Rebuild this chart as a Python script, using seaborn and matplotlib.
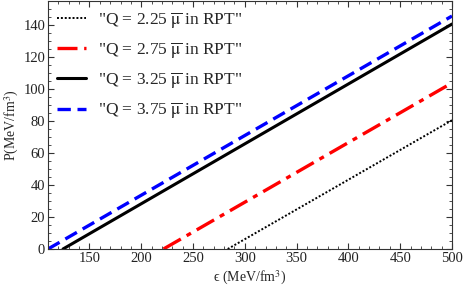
import matplotlib
matplotlib.use("Agg")
import matplotlib.pyplot as plt
from matplotlib.ticker import MultipleLocator
import pandas as pd
import seaborn as sns

# values (two end points per straight line)
eps_q225 = [283.5, 500.0]
p_q225 = [0.0, 80.5]
eps_q275 = [221.5, 500.0]
p_q275 = [0.0, 103.8]
eps_q325 = [124.5, 500.0]
p_q325 = [0.0, 140.6]
eps_q375 = [110.0, 500.0]
p_q375 = [0.0, 145.6]

labels = [
    '"Q = 2.25 $\\overline{\\mathrm{\\mu}}$ in RPT"',
    '"Q = 2.75 $\\overline{\\mathrm{\\mu}}$ in RPT"',
    '"Q = 3.25 $\\overline{\\mathrm{\\mu}}$ in RPT"',
    '"Q = 3.75 $\\overline{\\mathrm{\\mu}}$ in RPT"',
]

frames = []
for lab, xs, ys in zip(labels, [eps_q225, eps_q275, eps_q325, eps_q375],
                       [p_q225, p_q275, p_q325, p_q375]):
    frames.append(pd.DataFrame({"eps": xs, "P": ys, "series": lab}))
df = pd.concat(frames, ignore_index=True)

sns.set_style("ticks")
plt.rcParams["font.family"] = ["Liberation Serif", "DejaVu Serif"]
plt.rcParams["mathtext.fontset"] = "stix"

fig = plt.figure(figsize=(4.63, 2.92), dpi=100)
ax = fig.add_axes([48 / 463, 1 - 249 / 292, 404 / 463, 248 / 292])

colors = ["black", "red", "black", "blue"]
styles = [(0, (1, 1)), (0, (6, 2, 1.5, 2)), "-", (0, (4, 2))]
widths = [1.4, 2.4, 2.2, 2.4]

for lab, c, ls, lw in zip(labels, colors, styles, widths):
    sub = df[df["series"] == lab]
    sns.lineplot(data=sub, x="eps", y="P", ax=ax, color=c, linestyle=ls,
                 linewidth=lw, label=lab)

ax.set_xlim(110, 500)
ax.set_ylim(0, 155)
ax.xaxis.set_major_locator(MultipleLocator(50))
ax.xaxis.set_minor_locator(MultipleLocator(10))
ax.yaxis.set_major_locator(MultipleLocator(20))
ax.yaxis.set_minor_locator(MultipleLocator(5))
ax.tick_params(which="both", direction="in", top=True, right=True,
               labelsize=10.5, colors="#333333", labelcolor="#222222")
ax.tick_params(which="major", length=4, pad=2)
ax.tick_params(which="minor", length=2)
for s in ax.spines.values():
    s.set_color("#333333")
    s.set_linewidth(0.8)

ax.set_xlabel("\u03f5 (MeV/fm$^3$)", fontsize=10, labelpad=3)
ax.set_ylabel("P(MeV/fm$^3$)", fontsize=10, labelpad=2)

leg = ax.legend(loc="upper left", frameon=False, fontsize=12.5,
                handlelength=1.7, handletextpad=0.7, labelspacing=0.6,
                borderaxespad=0.3, borderpad=0.2)

fig.savefig("out.png", dpi=100)
